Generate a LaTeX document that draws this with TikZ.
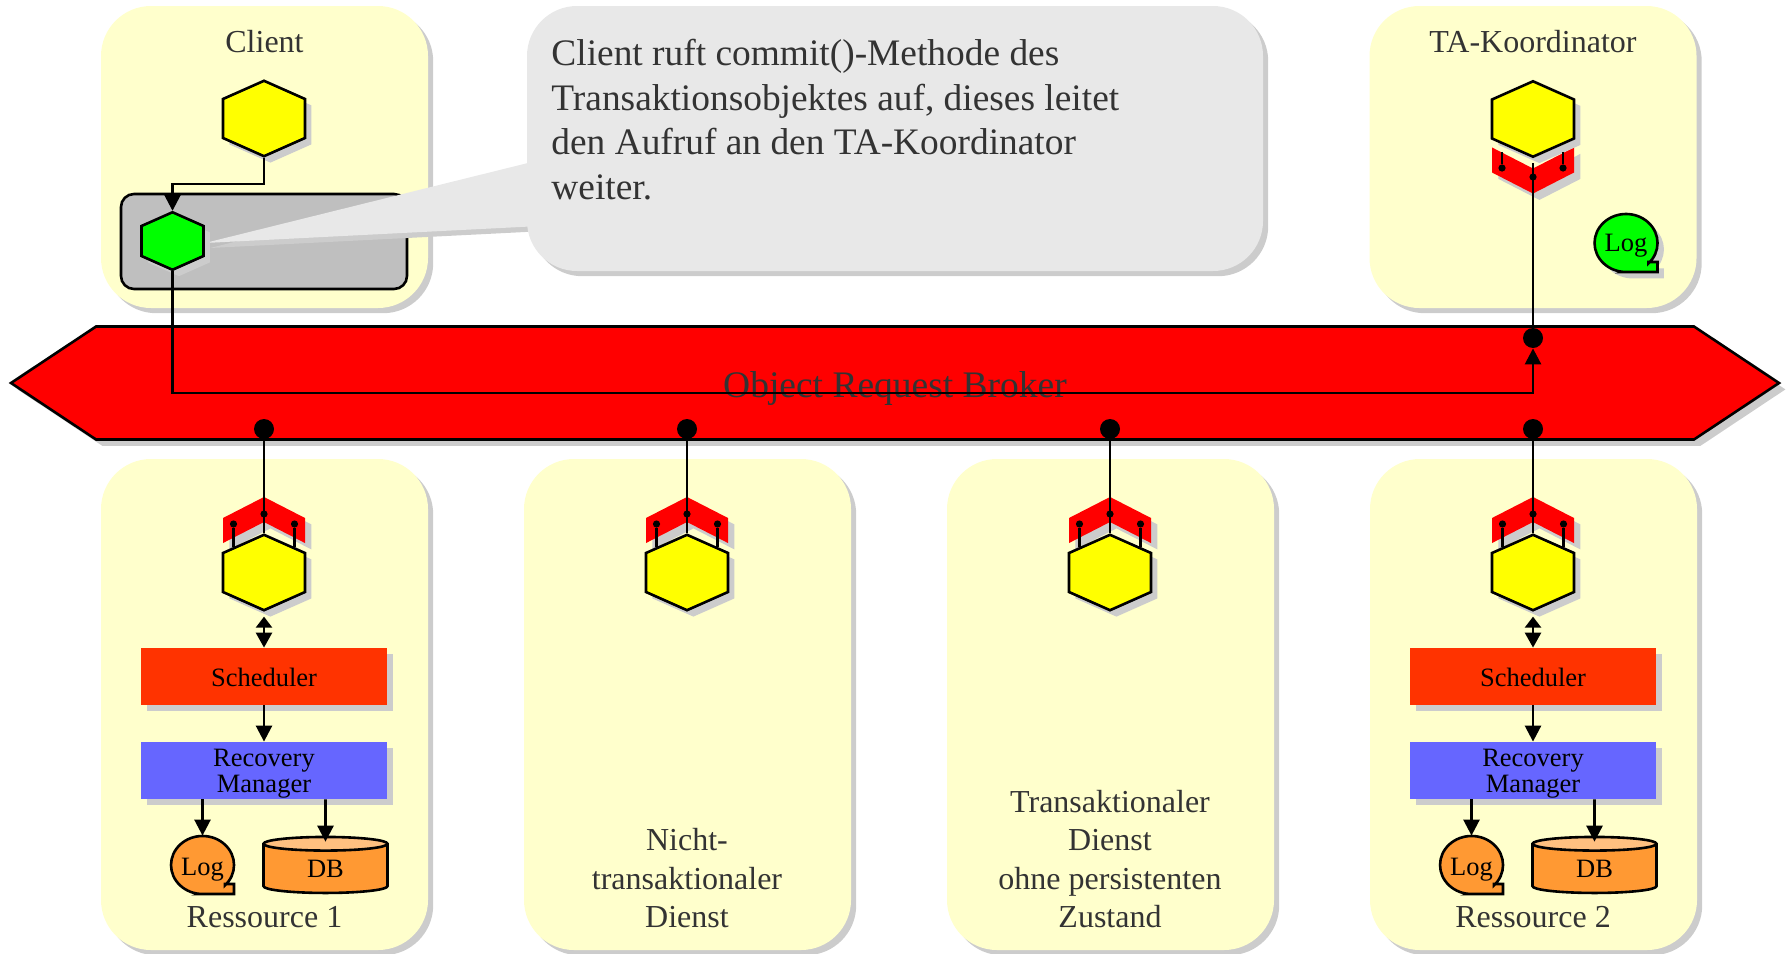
\documentclass[tikz,border=0pt]{standalone}
\usepackage{fontspec}
\setmainfont{Liberation Serif}
\usetikzlibrary{positioning, arrows.meta, shadows, shapes.geometric, shapes.symbols}
\definecolor{panelyellow}{HTML}{FFFFCC}
\definecolor{shadowgray}{HTML}{CCCCCC}
\definecolor{calloutgray}{HTML}{E8E8E8}
\definecolor{textgray}{HTML}{333333}
\definecolor{hexyellow}{HTML}{FFFF00}
\definecolor{hexgreen}{HTML}{00FF00}
\definecolor{schedred}{HTML}{FF3300}
\definecolor{recoveryblue}{HTML}{6666FF}
\definecolor{storeorange}{HTML}{FF9933}
\definecolor{storelight}{HTML}{FFC080}
\tikzset{
    >={Triangle[length=8pt,width=8pt]}, % arrow heads
    twoway/.style={{Triangle[length=5.5pt,width=8pt]}-{Triangle[length=7.5pt,width=8pt]}},
    softshadow/.style={drop shadow={shadow xshift=#1, shadow yshift=-#1, fill=shadowgray, opacity=1}},
    softshadow/.default=3.2pt,
    panel/.style={rectangle, rounded corners=25pt, fill=panelyellow, softshadow=2.6pt, minimum width=163.5pt, inner sep=0pt},
    paneltext/.style={text=textgray, font=\fontsize{16}{19.25}\selectfont, align=center},
    hexa/.style={signal, signal to=north and south, signal pointer angle=132.1, draw=black, line width=1.3pt, fill=hexyellow, softshadow, inner sep=0pt,
        minimum width=41pt, minimum height=19.5pt},
    hexagreen/.style={hexa, fill=hexgreen, minimum width=31pt, minimum height=15pt},
    portup/.style={signal, signal from=south, signal to=north, signal pointer angle=125.7, fill=red, softshadow,
        inner sep=0pt, minimum width=41pt, minimum height=2pt},
    portdown/.style={portup, signal from=north, signal to=south},
    portdot/.style={circle, fill=black, inner sep=0pt, minimum size=3.6pt},
    busdot/.style={circle, fill=black, inner sep=0pt, minimum size=10pt},
    conn/.style={line width=1.3pt},
    block/.style={rectangle, softshadow=2.8pt, inner sep=0pt, minimum width=123pt, minimum height=28.5pt,
        font=\fontsize{13.25}{13}\selectfont, align=center},
    dbstore/.style={cylinder, shape border rotate=90, aspect=.37, draw=black, line width=1.3pt, cylinder uses custom fill,
        cylinder body fill=storeorange, cylinder end fill=storelight, inner sep=0pt,
        minimum width=62pt, minimum height=28pt, font=\fontsize{13.25}{13}\selectfont},
    logtext/.style={inner sep=0pt, minimum width=31.5pt, minimum height=29pt, text height=13.5pt, text depth=3pt, font=\fontsize{13.25}{13}\selectfont},
    logshadow/.style={},
    logshape/.pic={
        \draw[line width=1.3pt, fill=#1, logshadow] (0,29) -- (31.5,29) -- (31.5,19) -- (22.3,19)
            -- (22.3,20.5) arc[start angle=45, end angle=-270, x radius=31.5, y radius=29] -- cycle;
    },
}
\begin{document}
\begin{tikzpicture}[x=0.5pt, y=-0.5pt]
    \useasboundingbox (0,0) rectangle (1787,953);

    % panels
    \node[panel, minimum height=151pt] (PANEL_CLIENT) at (264.5,157) {};
    \node[panel, minimum height=151pt] (PANEL_TA) at (1533,157) {};
    \node[panel, minimum height=245.5pt] (PANEL_R1) at (264.5,704.5) {};
    \node[panel, minimum height=245.5pt, right of=PANEL_R1, node distance=211.5pt] (PANEL_N) {};
    \node[panel, minimum height=245.5pt, right of=PANEL_N, node distance=211.5pt] (PANEL_T) {};
    \node[panel, minimum height=245.5pt, right of=PANEL_T, node distance=211.5pt] (PANEL_R2) {};

    % the box round the green object and the callout above it
    \node[rectangle, rounded corners=6.5pt, draw=black, line width=1.3pt, fill=black!25, minimum width=143pt, minimum height=47.5pt] (BOX_CLIENT) at (264,241.5) {};
    \coordinate (TIP) at (205,243);
    \fill[calloutgray, softshadow=2.5pt] (TIP) -- (540,160) -- (540,226) -- cycle;
    \node[rectangle, rounded corners=25pt, fill=calloutgray, softshadow=2.6pt, minimum width=368pt, minimum height=132.5pt] (CALLOUT) at (895,138.5) {};
    \node[anchor=north west, inner sep=0pt, align=left, text=textgray, font=\fontsize{18.7}{22.3}\selectfont] (CALLOUT_TEXT) at (551,39) {Client ruft commit()-Methode des\\Transaktionsobjektes auf, dieses leitet\\den Aufruf an den TA-Koordinator\\weiter.};

    % the broker
    \node[signal, signal to=west and east, signal pointer angle=67.2, draw=black, line width=1.3pt, fill=red, softshadow, inner sep=0pt, minimum width=884pt, minimum height=56.5pt] (ORB) at (895,383) {};
    \node[text=textgray, font=\fontsize{18.75}{22}\selectfont] (ORB_TEXT) at (895,388) {Object Request Broker};

    % ports, objects
    \node[portup] (PORT_R1) at (264,520) {};
    \node[portup, right of=PORT_R1, node distance=211.5pt] (PORT_N) {};
    \node[portup, right of=PORT_N, node distance=211.5pt] (PORT_T) {};
    \node[portup, right of=PORT_T, node distance=211.5pt] (PORT_R2) {};
    \node[portdown] (PORT_TA) at (1533,170.5) {};

    \node[hexa] (HEX_CLIENT) at (264,118.5) {};
    \node[hexa, above of=PORT_TA, node distance=25.75pt] (HEX_TA) {};
    \node[hexa, below of=PORT_R1, node distance=26.25pt] (HEX_R1) {};
    \node[hexa, below of=PORT_N, node distance=26.25pt] (HEX_N) {};
    \node[hexa, below of=PORT_T, node distance=26.25pt] (HEX_T) {};
    \node[hexa, below of=PORT_R2, node distance=26.25pt] (HEX_R2) {};
    \node[hexagreen] (HEX_GREEN) at (172.5,241) {};

    % dots on the bus
    \node[busdot] (BUS_R1) at (264,429) {};
    \node[busdot, right of=BUS_R1, node distance=211.5pt] (BUS_N) {};
    \node[busdot, right of=BUS_N, node distance=211.5pt] (BUS_T) {};
    \node[busdot, right of=BUS_T, node distance=211.5pt] (BUS_R2) {};
    \node[busdot] (BUS_TA) at (1533,338) {};

    % dots on the ports
    \foreach \name in {R1,N,T,R2} {
        \node[portdot, below left=2pt and 15.25pt of PORT_\name.center, anchor=center] (DOT_\name_L) {};
        \node[portdot, above of=PORT_\name, node distance=3pt] (DOT_\name_C) {};
        \node[portdot, below right=2pt and 15.25pt of PORT_\name.center, anchor=center] (DOT_\name_R) {};
        \draw[conn] (BUS_\name) -- (HEX_\name.north)
            (DOT_\name_L) -- (DOT_\name_L |- HEX_\name.140)
            (DOT_\name_R) -- (DOT_\name_R |- HEX_\name.40);
    }
    \node[portdot] (DOT_TA_L) at (1502,168) {};
    \node[portdot] (DOT_TA_C) at (1533,177) {};
    \node[portdot] (DOT_TA_R) at (1563,168) {};
    \draw[conn, shorten >=2.5pt] (BUS_TA) -- (HEX_TA.south);
    \draw[conn, shorten >=3pt] (DOT_TA_L) -- (DOT_TA_L |- HEX_TA.225);
    \draw[conn, shorten >=3pt] (DOT_TA_R) -- (DOT_TA_R |- HEX_TA.315);

    % call from the client to the coordinator
    \coordinate (BEND_C) at (172.5,184);
    \coordinate (BEND_ORB) at (172.5,393);
    \draw[conn, ->] (HEX_CLIENT.south) |- (BEND_C) -- (HEX_GREEN.north);
    \draw[conn, ->] (HEX_GREEN.south) -- (BEND_ORB) -| (BUS_TA.south);

    % resource 1
    \node[block, fill=schedred, text height=10pt, below of=HEX_R1, node distance=52pt] (SCHED_R1) {Scheduler};
    \node[block, fill=recoveryblue, text height=24.4pt, below of=SCHED_R1, node distance=47pt] (REC_R1) {Recovery\\Manager};
    \pic at (202.5,865) {logshape=storeorange};
    \node[logtext] (LOG_R1) at (202.5,865) {Log};
    \node[dbstore] (DB_R1) at (325.5,869) {DB};
    \draw[conn, twoway, shorten <=2.5pt] (HEX_R1.south) -- (SCHED_R1.north);
    \draw[conn, ->] (SCHED_R1) -- (REC_R1);
    \draw[conn, ->] (REC_R1.south -| LOG_R1) -- (LOG_R1.north);
    \draw[conn, ->, shorten >=-3pt] (REC_R1.south -| DB_R1) -- (DB_R1.north);

    % resource 2
    \node[block, fill=schedred, text height=10pt, below of=HEX_R2, node distance=52pt] (SCHED_R2) {Scheduler};
    \node[block, fill=recoveryblue, text height=24.4pt, below of=SCHED_R2, node distance=47pt] (REC_R2) {Recovery\\Manager};
    \pic at (1471.5,865) {logshape=storeorange};
    \node[logtext] (LOG_R2) at (1471.5,865) {Log};
    \node[dbstore] (DB_R2) at (1594.5,869) {DB};
    \draw[conn, twoway, shorten <=2.5pt] (HEX_R2.south) -- (SCHED_R2.north);
    \draw[conn, ->] (SCHED_R2) -- (REC_R2);
    \draw[conn, ->] (REC_R2.south -| LOG_R2) -- (LOG_R2.north);
    \draw[conn, ->, shorten >=-3pt] (REC_R2.south -| DB_R2) -- (DB_R2.north);

    % log of the coordinator
    \pic[logshadow/.style={softshadow}] at (1626,243) {logshape=hexgreen};
    \node[logtext] (LOG_TA) at (1626,241) {Log};

    % labels
    \node[paneltext] (LABEL_CLIENT) at (264.5,42) {Client};
    \node[paneltext] (LABEL_TA) at (1533,42) {TA-Koordinator};
    \node[paneltext] (LABEL_R1) at (264.5,917) {Ressource 1};
    \node[paneltext] (LABEL_R2) at (1533,917) {Ressource 2};
    \node[paneltext, anchor=south] (LABEL_N) at (687,935) {Nicht-\\transaktionaler\\Dienst};
    \node[paneltext, anchor=south] (LABEL_T) at (1110,935) {Transaktionaler\\Dienst\\ohne persistenten\\Zustand};
\end{tikzpicture}
\end{document}
